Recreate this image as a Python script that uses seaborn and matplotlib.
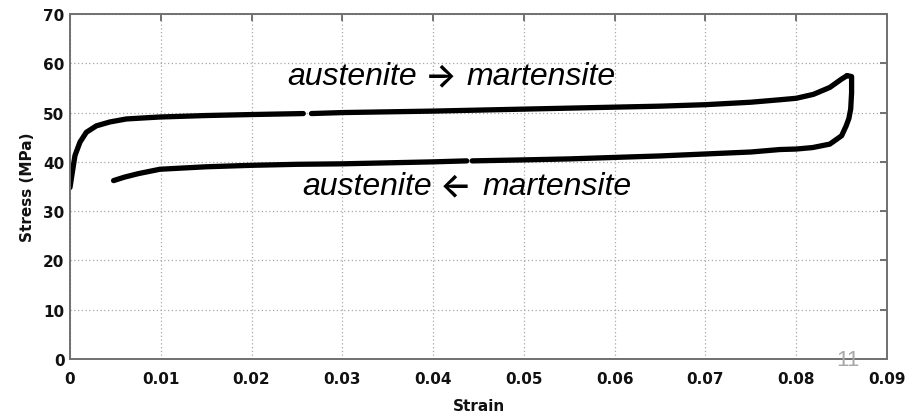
import matplotlib
matplotlib.use("Agg")
import matplotlib.pyplot as plt
import numpy as np
import pandas as pd
import seaborn as sns

# Superelastic stress-strain loop (loading / unloading branches)
load_strain_a = [0.0, 0.0002, 0.00055, 0.0011, 0.0018, 0.0029, 0.0044, 0.0062,
                 0.0080, 0.0099, 0.015, 0.020, 0.0257]
load_stress_a = [34.8, 37.2, 41.3, 44.0, 46.0, 47.3, 48.1, 48.7,
                 48.9, 49.1, 49.4, 49.6, 49.8]
load_strain_b = [0.0266, 0.030, 0.040, 0.050, 0.060, 0.065, 0.070, 0.075,
                 0.0782, 0.0800, 0.0819, 0.0837, 0.0850, 0.0856]
load_stress_b = [49.8, 50.0, 50.3, 50.7, 51.1, 51.3, 51.6, 52.1,
                 52.6, 52.9, 53.7, 55.1, 56.8, 57.5]

unload_strain_a = [0.0856, 0.0861, 0.0861, 0.0860, 0.0858, 0.0855, 0.0850,
                   0.0837, 0.0818, 0.0800, 0.0782, 0.075, 0.070, 0.065,
                   0.060, 0.055, 0.050, 0.0443]
unload_stress_a = [57.5, 57.3, 54.0, 50.7, 48.8, 47.3, 45.3,
                   43.6, 42.9, 42.6, 42.5, 42.0, 41.6, 41.2,
                   40.9, 40.6, 40.4, 40.2]
unload_strain_b = [0.0437, 0.040, 0.035, 0.030, 0.025, 0.020, 0.015,
                   0.0099, 0.0075, 0.0060, 0.0048]
unload_stress_b = [40.2, 40.0, 39.8, 39.6, 39.5, 39.3, 39.0,
                   38.5, 37.6, 36.9, 36.2]

x_ticks = [0, 0.01, 0.02, 0.03, 0.04, 0.05, 0.06, 0.07, 0.08, 0.09]
x_tick_labels = ["0", "0.01", "0.02", "0.03", "0.04", "0.05", "0.06", "0.07", "0.08", "0.09"]
y_ticks = [0, 10, 20, 30, 40, 50, 60, 70]

sns.set_style("white")
plt.rcParams["font.family"] = ["DejaVu Sans"]

fig = plt.figure(figsize=(9.17, 4.14), dpi=100)
ax = fig.add_axes([70 / 917, 1 - 360 / 414, 817 / 917, 345 / 414])

segments = [
    (load_strain_a, load_stress_a),
    (load_strain_b, load_stress_b),
    (unload_strain_a, unload_stress_a),
    (unload_strain_b, unload_stress_b),
]
for xs, ys in segments:
    df = pd.DataFrame({"strain": xs, "stress": ys})
    sns.lineplot(data=df, x="strain", y="stress", sort=False, estimator=None,
                 color="black", lw=3.8, solid_capstyle="round", ax=ax)

ax.set_xlim(0, 0.09)
ax.set_ylim(0, 70)
ax.set_xticks(x_ticks)
ax.set_xticklabels(x_tick_labels)
ax.set_yticks(y_ticks)

ax.grid(True, linestyle=(0, (1, 2)), color="#a8a8a8", linewidth=0.9)
for side in ["left", "right", "top", "bottom"]:
    ax.spines[side].set_visible(True)
    ax.spines[side].set_color("#707070")
    ax.spines[side].set_linewidth(1.4)

ax.tick_params(axis="both", which="major", direction="in", length=5, width=1.4,
               color="#707070", top=True, right=True, labelsize=11,
               labelcolor="#111111")
ax.tick_params(axis="x", pad=9)
ax.tick_params(axis="y", pad=4)
for lab in ax.get_xticklabels() + ax.get_yticklabels():
    lab.set_fontweight("bold")

ax.set_xlabel("Strain", fontsize=11, fontweight="bold", labelpad=8, color="#111111")
ax.set_ylabel("Stress (MPa)", fontsize=11, fontweight="bold", labelpad=6, color="#111111")


def phase_label(x, y, arrow):
    """Write 'austenite <arrow> martensite' centred on the arrow at (x, y)."""
    word_font = dict(fontsize=23, style="italic", color="black",
                     family=["Liberation Sans", "DejaVu Sans"], va="center")
    ax.annotate("austenite", xy=(x, y), xytext=(-17, 0), textcoords="offset points",
                ha="right", **word_font)
    ax.annotate("martensite", xy=(x, y), xytext=(19, 0), textcoords="offset points",
                ha="left", **word_font)
    ax.annotate(arrow, xy=(x, y), xytext=(0, 0), textcoords="offset points",
                ha="center", va="center", fontsize=24, fontweight="semibold",
                color="black", family=["Inter", "DejaVu Sans"])


phase_label(0.0408, 57.4, "\u2192")
phase_label(0.0425, 35.1, "\u2190")

fig.text(848 / 917, 1 - 361 / 414, "11", ha="center", va="center", fontsize=16,
         color="#a8a8a8", family=["Liberation Sans", "DejaVu Sans"])

fig.savefig("out.png", dpi=100)
